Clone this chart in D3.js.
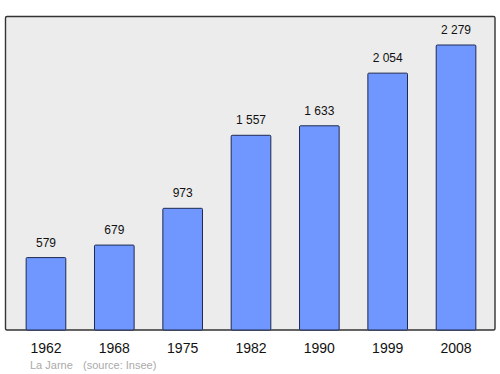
<!DOCTYPE html>
<html>
<head>
<meta charset="utf-8">
<script src="https://cdn.jsdelivr.net/npm/d3@7"></script>
<style>
  body { margin: 0; background: #fff; }
  svg { display: block; font-family: "Liberation Sans", Arial, sans-serif; }
</style>
</head>
<body>
<svg id="chart" width="500" height="374"></svg>
<script>
// population by census year
var years = ["1962", "1968", "1975", "1982", "1990", "1999", "2008"];
var population = [579, 679, 973, 1557, 1633, 2054, 2279];
var commune = "La Jarne";
var source = "(source: Insee)";

var svg = d3.select("#chart");

// frame of the plot
var frame = { left: 5.5, top: 16.5, right: 495, bottom: 330 };

svg.append("rect")
    .attr("x", frame.left)
    .attr("y", frame.top)
    .attr("width", frame.right - frame.left)
    .attr("height", frame.bottom - frame.top)
    .attr("rx", 1.5)
    .attr("fill", "#ececec")
    .attr("stroke", "#333")
    .attr("stroke-width", 1.4);

var x = d3.scaleBand()
    .domain(years)
    .range([11.8, 490.2])
    .paddingInner(0.42)
    .paddingOuter(0.21);

var y = d3.scaleLinear()
    .domain([0, d3.max(population) * 1.1])
    .range([frame.bottom, frame.top]);

var data = years.map(function (yr, i) { return { year: yr, value: population[i] }; });

// bars
svg.selectAll("rect.bar")
    .data(data)
    .enter().append("rect")
    .attr("class", "bar")
    .attr("x", function (d) { return x(d.year); })
    .attr("y", function (d) { return y(d.value); })
    .attr("width", x.bandwidth())
    .attr("height", function (d) { return frame.bottom - y(d.value); })
    .attr("rx", 1)
    .attr("fill", "#7097ff")
    .attr("stroke", "#1e2a50")
    .attr("stroke-width", 1);

// value labels, french thousands separator
var fmt = function (v) { return d3.format(",")(v).replace(",", " "); };

svg.selectAll("text.val")
    .data(data)
    .enter().append("text")
    .attr("class", "val")
    .attr("x", function (d) { return x(d.year) + x.bandwidth() / 2; })
    .attr("y", function (d) { return y(d.value) - 11; })
    .attr("text-anchor", "middle")
    .attr("font-size", 12)
    .attr("fill", "#111")
    .text(function (d) { return fmt(d.value); });

// year axis
var axis = d3.axisBottom(x).tickSize(0).tickPadding(0);
var gx = svg.append("g")
    .attr("transform", "translate(0," + frame.bottom + ")")
    .call(axis);
gx.select(".domain").remove();
gx.selectAll("text")
    .attr("dy", null)
    .attr("y", 23)
    .attr("font-size", 14)
    .attr("font-family", "Liberation Sans, Arial, sans-serif")
    .attr("fill", "#111");

// footer
svg.append("text")
    .attr("x", 30)
    .attr("y", 368.5)
    .attr("font-size", 11)
    .attr("fill", "#aaa")
    .text(commune);
svg.append("text")
    .attr("x", 83)
    .attr("y", 368.5)
    .attr("font-size", 11)
    .attr("fill", "#aaa")
    .text(source);
</script>
</body>
</html>
